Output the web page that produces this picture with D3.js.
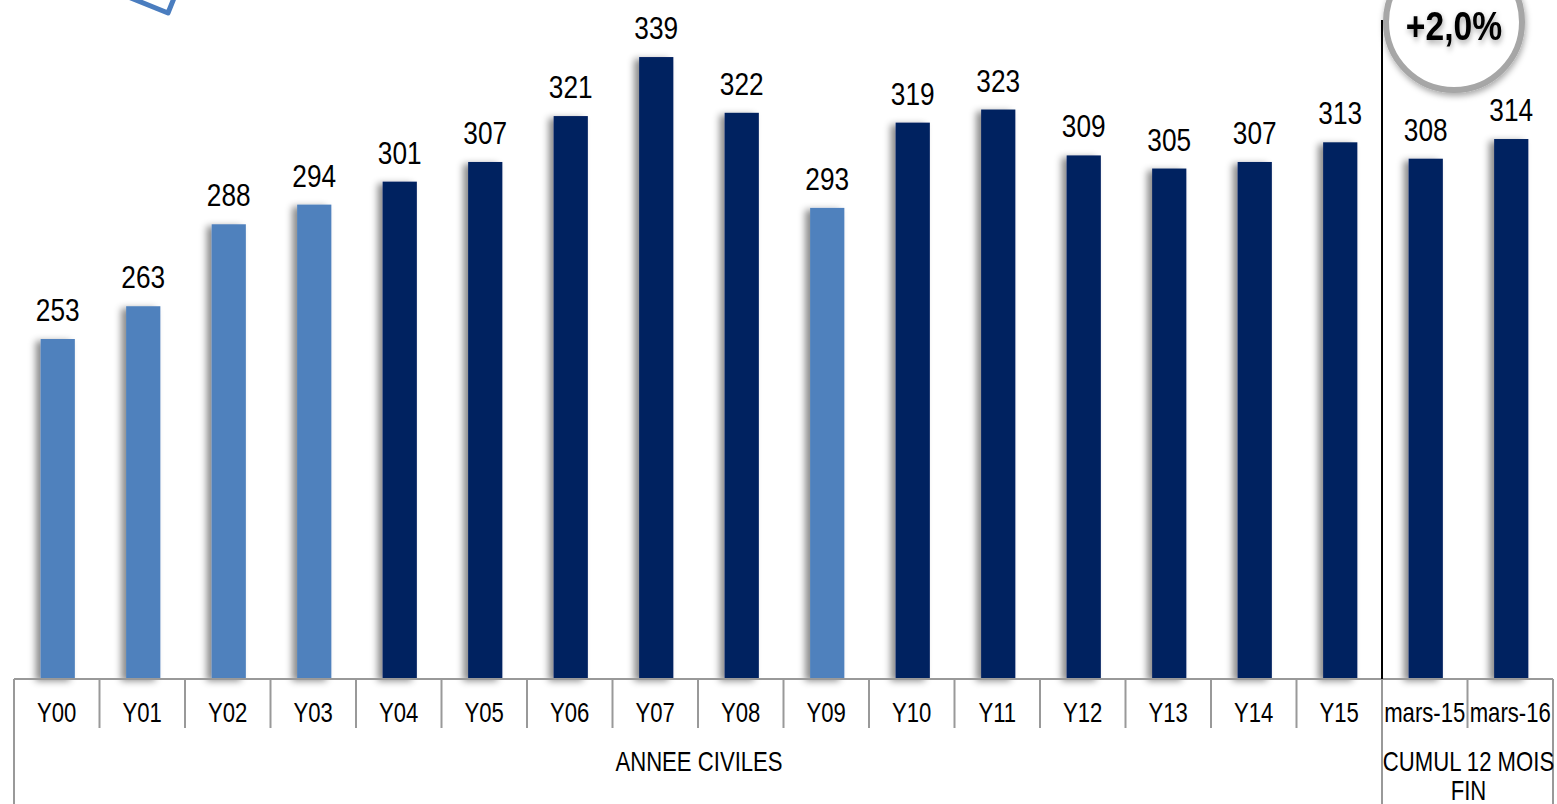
<!DOCTYPE html>
<html>
<head>
<meta charset="utf-8">
<script src="https://cdn.jsdelivr.net/npm/d3@7"></script>
<style>
  html, body { margin: 0; padding: 0; background: #fff; }
  svg { display: block; }
  text { font-family: "Liberation Sans", Arial, sans-serif; }
</style>
</head>
<body>
<svg id="chart" width="1557" height="804"></svg>
<script>
// Categories and values
const categories = ["Y00","Y01","Y02","Y03","Y04","Y05","Y06","Y07","Y08","Y09","Y10","Y11","Y12","Y13","Y14","Y15","mars-15","mars-16"];
const values     = [253, 263, 288, 294, 301, 307, 321, 339, 322, 293, 319, 323, 309, 305, 307, 313, 308, 314];
const highlight  = ["Y00","Y01","Y02","Y03","Y09"];   // lighter bars
const groups = [
  { label: ["ANNEE CIVILES"], from: "Y00", to: "Y15" },
  { label: ["CUMUL 12 MOIS", "FIN"], from: "mars-15", to: "mars-16" }
];
const badgeText = "+2,0%";

const svg = d3.select("#chart");
const W = 1557, H = 804;
const plotLeft = 14, plotRight = 1553, axisY = 679, plotTop = 21;
const NARROW = 0.82;   // condensed text look

const x = d3.scaleBand().domain(categories).range([plotLeft, plotRight]).padding(0);
const y = d3.scaleLinear().domain([149.3, 350]).range([axisY, plotTop]);

// condensed text helper
function ntext(sel, tx, ty, str, size, weight) {
  return sel.append("text")
    .attr("transform", `translate(${tx},${ty}) scale(${NARROW},1)`)
    .attr("text-anchor", "middle")
    .attr("font-size", size)
    .attr("font-weight", weight || "normal")
    .attr("fill", "#000")
    .text(str);
}

const defs = svg.append("defs");
const sh = defs.append("filter").attr("id", "barShadow")
  .attr("x", "-60%").attr("y", "-10%").attr("width", "200%").attr("height", "120%");
sh.append("feDropShadow").attr("dx", -5).attr("dy", 2).attr("stdDeviation", 3.5)
  .attr("flood-color", "#000").attr("flood-opacity", 0.45);

const cs = defs.append("filter").attr("id", "softShadow")
  .attr("x", "-30%").attr("y", "-30%").attr("width", "160%").attr("height", "160%");
cs.append("feDropShadow").attr("dx", 1).attr("dy", 3).attr("stdDeviation", 3)
  .attr("flood-color", "#000").attr("flood-opacity", 0.35);

// Decorative tilted square at top-left
const sq = 60, ang = 22 * Math.PI / 180, cx0 = 168, cy0 = 13;
const ux = [Math.cos(ang), Math.sin(ang)], vx = [Math.sin(ang), -Math.cos(ang)];
const pts = [
  [cx0, cy0],
  [cx0 - ux[0]*sq, cy0 - ux[1]*sq],
  [cx0 - ux[0]*sq + vx[0]*sq, cy0 - ux[1]*sq + vx[1]*sq],
  [cx0 + vx[0]*sq, cy0 + vx[1]*sq]
];
svg.append("path").attr("d", d3.line()(pts) + "Z")
  .attr("fill", "none").attr("stroke", "#4a7dbf").attr("stroke-width", 5)
  .attr("stroke-linejoin", "round");

// Bars
const bw = x.bandwidth() * 0.4;
const data = categories.map((c, i) => ({ c, v: values[i] }));
svg.append("g").selectAll("rect").data(data).join("rect")
  .attr("x", d => x(d.c) + x.bandwidth() / 2 - bw / 2 + 1)
  .attr("y", d => y(d.v))
  .attr("width", bw)
  .attr("height", d => axisY - y(d.v))
  .attr("fill", d => highlight.includes(d.c) ? "#4f81bd" : "#002060")
  .attr("filter", "url(#barShadow)");

// Value labels
const labels = svg.append("g");
data.forEach(d => ntext(labels, x(d.c) + x.bandwidth() / 2 + 1, y(d.v) - 18, d.v, 32));

// Category axis
const axis = svg.append("g");
const grey = "#999";
axis.append("line").attr("x1", plotLeft).attr("x2", plotRight).attr("y1", axisY).attr("y2", axisY)
  .attr("stroke", grey).attr("stroke-width", 2);
categories.forEach(c => {
  const xx = x(c);
  const isGroupEdge = groups.some(g => g.from === c);
  axis.append("line").attr("x1", xx).attr("x2", xx)
    .attr("y1", axisY).attr("y2", isGroupEdge ? H : 728)
    .attr("stroke", grey).attr("stroke-width", 2);
  ntext(axis, xx + x.bandwidth() / 2, 722, c, 27);
});
axis.append("line").attr("x1", plotRight).attr("x2", plotRight).attr("y1", axisY).attr("y2", H)
  .attr("stroke", grey).attr("stroke-width", 2);

groups.forEach(g => {
  const x0 = x(g.from), x1 = x(g.to) + x.bandwidth();
  g.label.forEach((t, k) => ntext(axis, (x0 + x1) / 2 + 1, 771 + k * 29, t, 27));
});

// Separator between calendar years and rolling totals
const sepX = x("mars-15");
svg.append("line").attr("x1", sepX).attr("x2", sepX).attr("y1", 20).attr("y2", axisY)
  .attr("stroke", "#000").attr("stroke-width", 2);

// Growth badge
const badge = svg.append("g").attr("transform", "translate(1454,22)");
badge.append("circle").attr("r", 68).attr("fill", "#fff")
  .attr("stroke", "#a6a6a6").attr("stroke-width", 6).attr("filter", "url(#softShadow)");
ntext(badge, 0, 18, badgeText, 41, "bold").attr("filter", "url(#softShadow)");
</script>
</body>
</html>
